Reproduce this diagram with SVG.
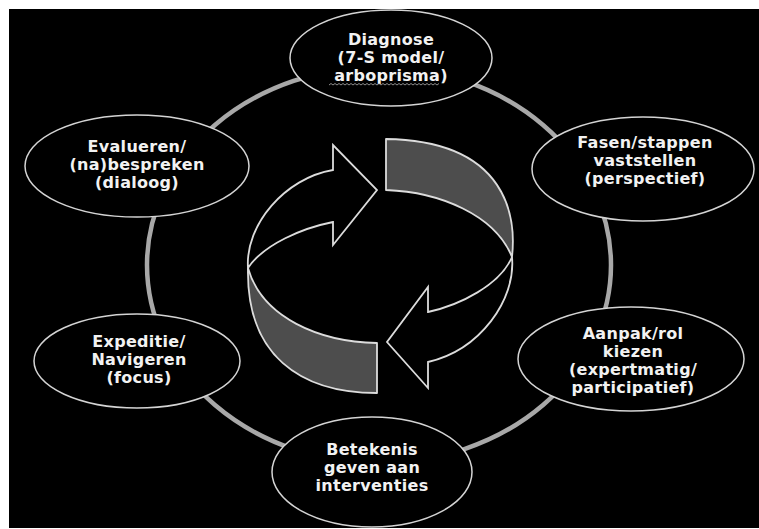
<svg xmlns="http://www.w3.org/2000/svg" width="759" height="529" viewBox="0 0 759 529">
<style>
.node ellipse{fill:#000;stroke:#d4d4d4;stroke-width:1.5}
.node text{font-family:"DejaVu Sans","Verdana",sans-serif;font-weight:bold;font-size:16px;letter-spacing:0.3px;fill:#f2f2f2;text-anchor:middle}
.band{fill:#4d4d4d;stroke:#dcdcdc;stroke-width:1.8;stroke-linejoin:round}
.arrow{fill:#000;stroke:#dcdcdc;stroke-width:1.8;stroke-linejoin:miter}
</style>
<rect x="0" y="0" width="759" height="529" fill="#fff"/>
<rect x="9" y="9" width="750" height="519" fill="#000"/>
<g id="connectors">
<ellipse cx="379" cy="265" rx="232" ry="198" fill="none" stroke="#a8a8a8" stroke-width="4.5"/>
</g>
<g id="cycle-arrows">
<path class="band" d="M386,139 L386,190 C440,192 495,215 512,257 C516,220 510,141 386,139 Z"/>
<path class="band" d="M248,268 C246,355 300,393 377,393 L377,343 C320,342 262,318 248,268 Z"/>
<path class="arrow" d="M248,268 C245,225 285,178 333,170 L333,145 L377,190 L333,245 L333,222 C303,228 264,244 248,268 Z"/>
<path class="arrow" d="M512,257 C516,300 480,350 428,362 L428,388 L387,342 L428,287 L428,312 C460,305 500,285 512,257 Z"/>
</g>
<g id="node-diagnose" class="node">
<ellipse cx="391" cy="58" rx="101" ry="48"/>
<text x="391" y="45">Diagnose</text>
<text x="391" y="63">(7-S model/</text>
<text x="391" y="81">arboprisma)</text>
<path d="M329,85 l2,-1.5 l2,1.5 l2,-1.5 l2,1.5 l2,-1.5 l2,1.5 l2,-1.5 l2,1.5 l2,-1.5 l2,1.5 l2,-1.5 l2,1.5 l2,-1.5 l2,1.5 l2,-1.5 l2,1.5 l2,-1.5 l2,1.5 l2,-1.5 l2,1.5 l2,-1.5 l2,1.5 l2,-1.5 l2,1.5 l2,-1.5 l2,1.5 l2,-1.5 l2,1.5 l2,-1.5 l2,1.5 l2,-1.5 l2,1.5 l2,-1.5 l2,1.5 l2,-1.5 l2,1.5 l2,-1.5 l2,1.5 l2,-1.5 l2,1.5 l2,-1.5 l2,1.5 l2,-1.5 l2,1.5 l2,-1.5 l2,1.5 l2,-1.5 l2,1.5 l2,-1.5 l2,1.5 l2,-1.5 l2,1.5 l2,-1.5 l2,1.5 l2,-1.5" fill="none" stroke="#b0b0b0" stroke-width="0.8"/>
</g>
<g id="node-fasen" class="node">
<ellipse cx="643" cy="169" rx="111" ry="52"/>
<text x="645" y="148">Fasen/stappen</text>
<text x="645" y="166">vaststellen</text>
<text x="645" y="184">(perspectief)</text>
</g>
<g id="node-aanpak" class="node">
<ellipse cx="631" cy="359" rx="113" ry="52"/>
<text x="633" y="339">Aanpak/rol</text>
<text x="633" y="357">kiezen</text>
<text x="633" y="375">(expertmatig/</text>
<text x="633" y="393">participatief)</text>
</g>
<g id="node-betekenis" class="node">
<ellipse cx="372" cy="472" rx="100" ry="55"/>
<text x="372" y="455">Betekenis</text>
<text x="372" y="473">geven aan</text>
<text x="372" y="491">interventies</text>
</g>
<g id="node-expeditie" class="node">
<ellipse cx="137" cy="361" rx="103" ry="47"/>
<text x="139" y="347">Expeditie/</text>
<text x="139" y="365">Navigeren</text>
<text x="139" y="383">(focus)</text>
</g>
<g id="node-evalueren" class="node">
<ellipse cx="137" cy="166" rx="112" ry="51"/>
<text x="137" y="152">Evalueren/</text>
<text x="137" y="170">(na)bespreken</text>
<text x="137" y="188">(dialoog)</text>
</g>
</svg>
